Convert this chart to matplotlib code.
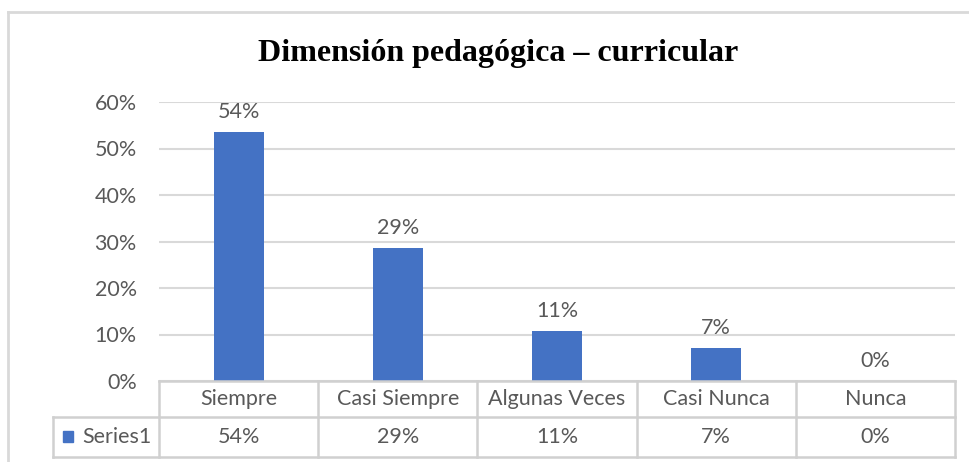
import matplotlib.pyplot as plt
from matplotlib.patches import Rectangle
from matplotlib.lines import Line2D

categories = ['Siempre', 'Casi Siempre', 'Algunas Veces', 'Casi Nunca', 'Nunca']
values = [0.536, 0.286, 0.108, 0.072, 0.0]
labels = ['54%', '29%', '11%', '7%', '0%']
yticks = [0, 0.1, 0.2, 0.3, 0.4, 0.5, 0.6]
series_name = 'Series1'
title = 'Dimensión pedagógica – curricular'

W, H = 969, 462
blue = '#4472C4'
txt = '#595959'
grid = '#D9D9D9'
fs = 15.5
plt.rcParams['font.family'] = ['Lato', 'DejaVu Sans']

fig = plt.figure(figsize=(W / 100, H / 100), dpi=100)

def fx(px):
    return px / W

def fy(py):
    return 1 - py / H

# plot area in pixels
x0, x1, ytop, ybot = 159, 955, 102, 381
ax = fig.add_axes([fx(x0), fy(ybot), fx(x1) - fx(x0), fy(ytop) - fy(ybot)])
xs = range(len(categories))
ax.bar(xs, values, width=0.315, color=blue, zorder=3)
ax.set_xlim(-0.5, len(categories) - 0.5)
ax.set_ylim(0, 0.6)
ax.set_yticks(yticks)
ax.set_yticklabels([f'{int(round(t * 100))}%' for t in yticks], color=txt, fontsize=fs)
ax.tick_params(axis='y', length=0, pad=16)
ax.set_xticks([])
for s in ax.spines.values():
    s.set_visible(False)
ax.yaxis.grid(True, color=grid, linewidth=1.5, zorder=0)

for x, v, lab in zip(xs, values, labels):
    ax.annotate(lab, (x, v), xytext=(0, 7), textcoords='offset points',
                ha='center', va='bottom', color=txt, fontsize=fs)

# chart border
fig.add_artist(Line2D([fx(8), fx(969)], [fy(12), fy(12)], color=grid, lw=2))
fig.add_artist(Line2D([fx(8), fx(8)], [fy(12), fy(462)], color=grid, lw=2))

fig.text(fx(498), fy(53), title, ha='center', va='center',
         fontfamily='Liberation Serif', fontweight='bold', fontsize=23, color='black')

# data table
line_c = '#D0D0D0'
cols = [159 + i * (955 - 159) / len(categories) for i in range(len(categories) + 1)]
r0, r1, r2 = 381, 417, 457
left = 53

def hline(xa, xb, y):
    fig.add_artist(Line2D([fx(xa), fx(xb)], [fy(y), fy(y)], color=line_c, lw=1.8))

def vline(x, ya, yb):
    fig.add_artist(Line2D([fx(x), fx(x)], [fy(ya), fy(yb)], color=line_c, lw=1.8))

hline(cols[0], cols[-1], r0)
hline(left, cols[-1], r1)
hline(left, cols[-1], r2)
vline(left, r1, r2)
for c in cols:
    vline(c, r0, r2)

for i, (cat, lab) in enumerate(zip(categories, labels)):
    cx = (cols[i] + cols[i + 1]) / 2
    fig.text(fx(cx), fy((r0 + r1) / 2), cat, ha='center', va='center', color=txt, fontsize=fs)
    fig.text(fx(cx), fy((r1 + r2) / 2), lab, ha='center', va='center', color=txt, fontsize=fs)

fig.add_artist(Rectangle((fx(63), fy(442)), fx(10), fy(431) - fy(442), color=blue))
fig.text(fx(82), fy((r1 + r2) / 2), series_name, ha='left', va='center', color=txt, fontsize=fs)

fig.savefig('out.png', dpi=100)
